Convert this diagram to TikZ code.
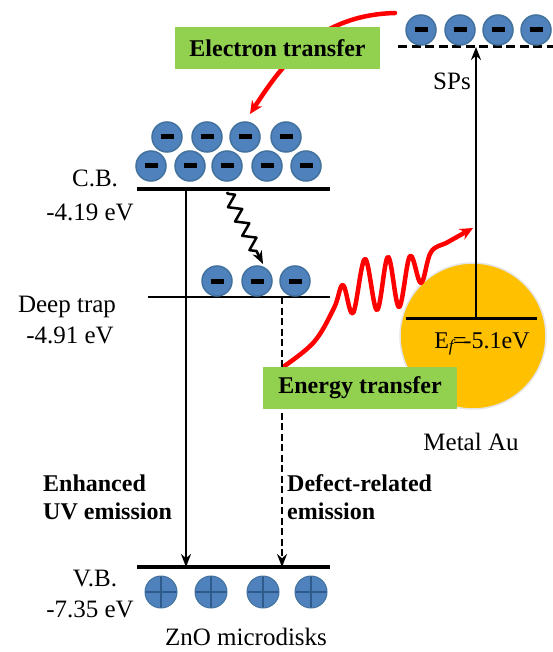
\documentclass[tikz,border=0pt]{standalone}
\usepackage{fontspec}
\setmainfont{Liberation Serif}
\usetikzlibrary{arrows.meta,decorations.pathmorphing}
\definecolor{eblue}{HTML}{4F81BD}
\definecolor{eborder}{HTML}{41719C}
\definecolor{hline}{HTML}{2F5A8C}
\definecolor{boxgreen}{HTML}{92D050}
\definecolor{gold}{HTML}{FFC000}
\newcommand\elecminus{\rule[-2.5pt]{13pt}{5pt}}
\begin{document}
\begin{tikzpicture}[x=1pt,y=-1pt,
 electron/.style={circle, fill=eblue, draw=eborder, line width=1.5pt, minimum size=30pt, inner sep=0pt},
 hole/.style={circle, fill=eblue, draw=eborder, line width=1pt, minimum size=32pt, inner sep=0pt,
   path picture={\draw[hline, line width=2.2pt] (path picture bounding box.north) -- (path picture bounding box.south)
     (path picture bounding box.west) -- (path picture bounding box.east);}},
 level/.style={line width=4pt},
 lab/.style={font=\fontsize{25}{28}\selectfont, inner sep=0pt},
 blab/.style={font=\fontsize{24}{27}\selectfont\bfseries, inner sep=0pt},
 gbox/.style={fill=boxgreen, font=\fontsize{24}{27}\selectfont\bfseries, inner sep=0pt},
 tipar/.style={-{Stealth[length=13pt,width=10pt]}},
 redar/.style={red, line width=4.5pt, line cap=round, line join=round, -{Stealth[length=13pt,width=12pt]}},
]
\useasboundingbox (0,0) rectangle (553,652);

% gold metal circle
\node[circle, fill=gold, draw=gray!20, line width=1.5pt, minimum size=146pt, inner sep=0pt] (au) at (473,336) {};

% coordinates
\coordinate (cbL) at (137,189); \coordinate (cbR) at (330,189);
\coordinate (dtL) at (148,297); \coordinate (dtR) at (330,297);
\coordinate (vbL) at (137,567); \coordinate (vbR) at (330,567);
\coordinate (spL) at (398,47);  \coordinate (spR) at (553,47);
\coordinate (efL) at (406,318); \coordinate (efR) at (537,318);
\coordinate (uvA) at (186,189); \coordinate (uvB) at (186,567);
\coordinate (dfA) at (282,297); \coordinate (dfB) at (282,567);
\coordinate (spA) at (476,318); \coordinate (spB) at (476,47);
\coordinate (rt1) at (395,13);  \coordinate (rt2) at (250,114);
\coordinate (wb1) at (227,192); \coordinate (wb2) at (263,264);

% red electron transfer arrow
\draw[redar] (rt1) .. controls (320,15) and (285,60) .. (rt2);

% red energy transfer wave
\draw[redar] plot[smooth, tension=0.6] coordinates {(283,367) (314,342) (334,308) (343,285) (353,313) (365,259) (377,310) (388,257) (399,307) (410,256) (421,283) (431,252) (448,242) (473,228)};

% emission arrows
\draw[tipar, line width=2.5pt] (uvA) -- (uvB);
\draw[tipar, line width=2.5pt, dash pattern=on 7pt off 3.5pt] (dfA) -- (dfB);

% green boxes
\node[gbox, minimum width=205pt, minimum height=42pt] (etb) at (277.5,48) {Electron transfer};
\node[gbox, minimum width=194pt, minimum height=42pt] (enb) at (360,388) {Energy transfer};

% levels
\draw[level] (cbL) -- (cbR);
\draw[line width=2pt] (dtL) -- (dtR);
\draw[level] (vbL) -- (vbR);
\draw[line width=3pt, dash pattern=on 9pt off 4.5pt] (spL) -- (spR);
\draw[line width=3pt] (efL) -- (efR);
\draw[tipar, line width=2.5pt] (spA) -- (spB);

% thermal relaxation wavy arrow
\draw[tipar, line width=2.5pt, line join=round, decorate, decoration={zigzag, amplitude=6pt, segment length=16pt, pre length=2pt, post length=12pt}] (wb1) -- (wb2);

% electrons
\foreach \x [count=\i] in {421,460,498,536} \node[electron] (s\i) at (\x,30) {\elecminus};
\foreach \x [count=\i] in {167,207,245,286} \node[electron] (ct\i) at (\x,137) {\elecminus};
\foreach \x [count=\i] in {151,190,227,267,306} \node[electron] (cb\i) at (\x,166) {\elecminus};
\foreach \x [count=\i] in {217,257,295} \node[electron] (d\i) at (\x,281) {\elecminus};
% holes
\foreach \x [count=\i] in {161,211,263,311} \node[hole] (h\i) at (\x,592) {};

% labels
\node[lab, anchor=base] (tcb) at (95,187) {C.B.};
\node[lab, anchor=base] (tcbv) at (90,220) {-4.19 eV};
\node[lab, anchor=base] (tdt) at (67,312) {Deep trap};
\node[lab, anchor=base] (tdtv) at (70,343) {-4.91 eV};
\node[lab, anchor=base] (tvb) at (95,586) {V.B.};
\node[lab, anchor=base] (tvbv) at (90,617) {-7.35 eV};
\node[lab, anchor=base] (tzno) at (246,645) {ZnO microdisks};
\node[lab, anchor=base] (tsp) at (452,90) {SPs};
\node[lab, anchor=base] (tau) at (471,450) {Metal Au};
\node[lab, anchor=base, font=\fontsize{24}{27}\selectfont] (tef) at (482,348) {E\textsubscript{\itshape f}\kern-1pt=\kern-3pt-5.1eV};
\node[blab, anchor=base west] (te1) at (43,491) {Enhanced};
\node[blab, anchor=base west] (te2) at (43,519) {UV emission};
\node[blab, anchor=base west] (td1) at (287,491) {Defect-related};
\node[blab, anchor=base west] (td2) at (287,519) {emission};
\end{tikzpicture}
\end{document}
